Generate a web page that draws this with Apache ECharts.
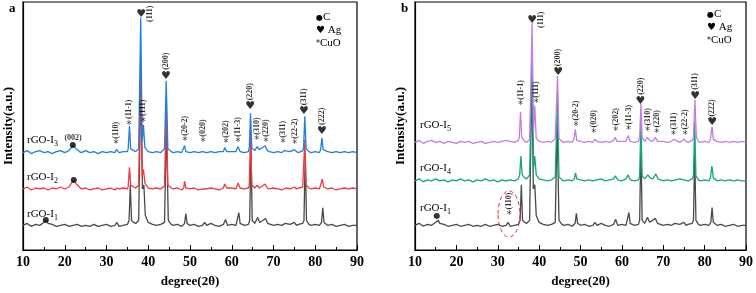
<!DOCTYPE html>
<html>
<head>
<meta charset="utf-8">
<script src="https://cdn.jsdelivr.net/npm/echarts@6/dist/echarts.min.js"></script>
<style>
	html, body { margin: 0; padding: 0; background: #fff; }
	#chart { width: 756px; height: 293px; }
</style>
</head>
<body>
<div id="chart"></div>
<script>
// rGO-I1 (same sample in both panels), [2theta, intensity]
var grayI1 = [[10,25],[11,27],[12,24],[13,26],[14,25],[15,28],[15.6,30],[16,27],[17,26],[18,24],[19,25],[20,26],[21,24],[22,25],[23,26],[24,24],[25,25],[26,24],[27,26],[28,24],[29,25],[30,26],[31,24],[32,25],[32.5,28],[33,24],[34,25],[35,26],[35.4,30],[35.7,66],[36.0,30],[36.5,28],[37,27],[37.7,30],[38.25,178],[38.6,62],[38.95,66],[39.3,35],[40,28],[41,26],[42,25],[43,26],[43.9,28],[44.35,128],[44.8,30],[45.5,26],[46,25],[47,26],[48,24],[48.7,27],[49.0,37],[49.3,27],[50,25],[51,26],[52,24],[53,25],[53.5,28],[54,25],[55,27],[56,25],[57,24],[58,26],[58.5,31],[59,25],[60,26],[61,25],[61.4,27],[61.7,38],[62,27],[63,25],[64,26],[64.3,30],[64.6,108],[64.9,30],[65.5,27],[66.2,33],[66.7,28],[67,27],[68.1,32],[68.6,27],[69,26],[70,25],[71,26],[72,25],[72.8,27],[73,25],[74,26],[75,28],[75.5,25],[76,26],[77,27],[77.3,30],[77.6,98],[77.9,30],[78.5,26],[79,25],[80,26],[81,25],[81.5,28],[81.8,43],[82.1,28],[83,25],[84,26],[85,24],[86,25],[87,26],[88,24],[89,25],[90,25]];

// panel a
var redI2 = [[10,62],[11,64],[12,61],[13,63],[14,62],[15,63],[16,61],[17,63],[18,62],[19,64],[20,62],[21,64],[21.6,68],[22.2,70],[22.8,67],[23.5,64],[24,62],[25,63],[26,61],[27,62],[28,63],[29,61],[30,62],[31,63],[32,61],[32.5,63],[33,62],[34,63],[35,62],[35.2,65],[35.5,84],[35.8,66],[36.5,64],[37,63],[37.7,66],[38.2,195],[38.55,75],[38.85,82],[39.2,68],[40,63],[41,62],[42,63],[43,62],[43.9,65],[44.3,152],[44.7,66],[45.5,63],[46,62],[47,63],[48,61],[48.5,63],[48.7,70],[49,63],[50,62],[51,63],[52,61],[53,62],[53.4,64],[54,62],[55,63],[56,62],[57,61],[58,63],[58.3,67],[58.8,63],[59,62],[60,63],[61,62],[61.5,68],[62,63],[63,62],[64,63],[64.2,66],[64.5,122],[64.8,66],[65.5,63],[66.1,66],[66.6,63],[67,62],[68,67],[68.5,63],[69,62],[70,63],[71,62],[72,61],[73,63],[74,62],[75,64],[75.5,62],[76,63],[77,64],[77.2,66],[77.5,112],[77.8,66],[78.5,63],[79,62],[80,63],[81,62],[81.4,64],[81.7,72],[82,64],[83,62],[84,63],[85,61],[86,62],[87,63],[88,62],[89,63],[90,62]];
var blueI3 = [[10,99],[11,101],[12,98],[13,100],[14,101],[15,99],[16,100],[17,98],[18,100],[19,101],[20,99],[21,101],[21.6,104],[22.1,106],[22.7,103],[23.5,100],[24,99],[25,101],[26,99],[27,100],[28,98],[29,100],[30,99],[31,100],[32,99],[32.4,102],[33,99],[34,100],[35,100],[35.2,103],[35.5,126],[35.8,103],[36.5,101],[37,100],[37.7,103],[38.2,236],[38.55,110],[38.85,127],[39.2,104],[40,100],[41,99],[42,100],[43,99],[43.9,103],[44.3,172],[44.7,103],[45.5,100],[46,99],[47,100],[48,99],[48.4,101],[48.7,106],[49,100],[50,99],[51,100],[52,99],[53,100],[53.4,102],[54,99],[55,100],[56,99],[57,100],[58,100],[58.3,104],[58.8,100],[59,99],[60,100],[61,100],[61.5,105],[62,100],[63,99],[64,100],[64.2,104],[64.5,139],[64.8,104],[65.5,101],[66.1,105],[66.6,102],[67,101],[68,106],[68.5,101],[69,100],[70,99],[71,100],[72,99],[72.6,101],[73,99],[74,100],[75,102],[75.5,100],[76,99],[77,101],[77.2,104],[77.5,136],[77.8,103],[78.5,100],[79,99],[80,100],[81,99],[81.3,102],[81.6,114],[81.9,102],[83,100],[84,99],[85,100],[86,99],[87,100],[88,99],[89,100],[90,99]];

// panel b
var greenI4 = [[10,70],[11,72],[12,69],[13,71],[14,70],[15,72],[16,70],[17,71],[18,69],[19,71],[20,70],[21,72],[22,70],[23,71],[24,69],[25,71],[26,70],[27,72],[28,70],[29,71],[30,69],[31,71],[32,70],[33,71],[34,70],[35,72],[35.3,76],[35.6,95],[35.9,76],[36.5,73],[37,72],[37.7,76],[38.3,200],[38.65,82],[38.95,95],[39.3,76],[40,72],[41,71],[42,70],[43,71],[43.9,74],[44.45,160],[44.8,74],[45.5,71],[46,70],[47,71],[48,70],[48.5,72],[48.8,78],[49.1,72],[50,71],[51,70],[52,71],[53,70],[54,71],[55,72],[56,70],[57,71],[58,72],[58.4,75],[59,71],[60,70],[61,72],[61.5,76],[62,71],[63,70],[64,71],[64.3,75],[64.6,130],[64.9,75],[65.5,72],[66.3,76],[66.8,73],[67.5,72],[68.2,77],[68.7,72],[69,71],[70,70],[71,71],[72,70],[73,71],[74,72],[75,71],[76,70],[77,72],[77.3,75],[77.6,130],[77.9,75],[78.5,71],[79,70],[80,71],[81,70],[81.4,73],[81.75,85],[82.1,73],[83,70],[84,71],[85,70],[86,71],[87,70],[88,71],[89,70],[90,70]];
var purpleI5 = [[10,109],[11,111],[12,108],[13,110],[14,111],[15,109],[16,110],[17,108],[18,110],[19,109],[20,108],[21,110],[22,109],[23,110],[24,108],[25,109],[26,110],[27,108],[28,109],[29,110],[30,109],[31,110],[32,111],[33,110],[34,109],[35,111],[35.2,114],[35.5,140],[35.8,114],[36.5,110],[37,109],[37.7,112],[38.3,230],[38.65,120],[38.95,146],[39.3,113],[40,110],[41,109],[42,110],[43,109],[43.9,113],[44.45,176],[44.8,113],[45.5,110],[46,109],[47,110],[48,109],[48.4,112],[48.75,122],[49.1,111],[50,110],[51,109],[52,110],[53,109],[53.4,112],[54,110],[55,109],[56,110],[57,109],[58,111],[58.4,114],[58.8,110],[59,109],[60,110],[61,110],[61.55,116],[62,110],[63,109],[64,110],[64.3,114],[64.6,148],[64.9,114],[65.5,110],[66.2,114],[66.7,111],[67.4,110],[68.1,114],[68.6,110],[69,109],[70,110],[71,109],[72,110],[72.6,112],[73,110],[74,109],[75,112],[75.5,110],[76,109],[77,111],[77.3,114],[77.65,152],[78,114],[78.5,110],[79,109],[80,110],[81,109],[81.4,112],[81.8,125],[82.1,112],[83,110],[84,109],[85,110],[86,109],[87,110],[88,109],[89,110],[90,109]];

// peak markers: [2theta, intensity, symbol, (hkl)]
var marksA = [
	[22.0, 107, '●', '(002)'], [22.2, 71, '●', ''], [15.5, 31, '●', ''],
	[32.3, 107, '*', '(110)'], [35.4, 127, '*', '(11-1)'], [38.3, 240, '♥', '(111)'],
	[38.8, 130, '*', '(111)'], [44.25, 177, '♥', '(200)'], [48.8, 110, '*', '(20-2)'],
	[53.1, 109, '*', '(020)'], [58.6, 108, '*', '(202)'], [61.5, 109, '*', '(11-3)'],
	[64.4, 146, '♥', '(220)'], [66.0, 111, '*', '(310)'], [68.2, 109, '*', '(220)'],
	[72.3, 108, '*', '(311)'], [75.1, 107, '*', '(22-2)'], [77.3, 141, '♥', '(311)'],
	[81.6, 121, '♥', '(222)']
];
var marksB = [
	[15.3, 34, '●', ''], [32.8, 35, '*', '(110)'], [35.5, 146, '*', '(11-1)'],
	[38.3, 233, '♥', '(111)'], [39.3, 148, '*', '(111)'], [44.6, 180, '♥', '(200)'],
	[48.9, 125, '*', '(20-2)'], [53.2, 118, '*', '(020)'], [58.5, 120, '*', '(202)'],
	[61.6, 121, '*', '(11-3)'], [64.5, 151, '♥', '(220)'], [66.2, 120, '*', '(310)'],
	[68.4, 118, '*', '(220)'], [72.5, 116, '*', '(311)'], [75.3, 116, '*', '(22-2)'],
	[77.7, 156, '♥', '(311)'], [81.8, 129, '♥', '(222)']
];
var xTicks = [10, 20, 30, 40, 50, 60, 70, 80, 90];

var serif = '"Liberation Serif", "DejaVu Serif", serif';

function glyphData(rows) {
	return rows.map(function (r) {
		var size = r[2] == '♥' ? 11 : (r[2] == '●' ? 8 : 10);
		return { name: r[2], value: [r[0], r[1]], label: { fontSize: size } };
	});
}

function hklData(rows) {
	return rows.filter(function (r) { return r[3]; }).map(function (r) {
		var item = { name: r[3], value: [r[0], r[1]] };
		if (r[3] == '(002)') {
			item.label = { rotate: 0, position: 'top', distance: 3, align: 'center', verticalAlign: 'bottom' };
		} else if (r[2] == '♥' && r[1] > 220) {
			// top peak: label sits beside the heart
			item.label = { position: [9, 0], align: 'center', verticalAlign: 'middle' };
		}
		return item;
	});
}

function lineSeries(name, data, color, idx, z) {
	return {
		name: name,
		type: 'line',
		xAxisIndex: idx,
		yAxisIndex: idx,
		data: data,
		symbol: 'none',
		z: z,
		lineStyle: { color: color, width: 1.3 },
		animation: false
	};
}

function glyphSeries(rows, idx) {
	return {
		type: 'scatter',
		xAxisIndex: idx,
		yAxisIndex: idx,
		symbolSize: 0,
		z: 10,
		data: glyphData(rows),
		label: { show: true, position: 'inside', formatter: '{b}', color: '#000', fontFamily: 'DejaVu Sans' },
		animation: false
	};
}

function hklSeries(rows, idx) {
	return {
		type: 'scatter',
		xAxisIndex: idx,
		yAxisIndex: idx,
		symbolSize: 0,
		z: 10,
		data: hklData(rows),
		label: {
			show: true, position: 'top', distance: 6, rotate: 90, align: 'left', verticalAlign: 'middle',
			formatter: '{b}', color: '#000', fontFamily: serif, fontWeight: 'bold', fontSize: 8
		},
		animation: false
	};
}

function xAxisOf(idx) {
	return {
		type: 'value', gridIndex: idx, min: 10, max: 90, interval: 10,
		axisLine: { lineStyle: { color: '#000', width: 1.2 } },
		axisTick: { inside: true, length: 5, lineStyle: { color: '#000' } },
		minorTick: { show: true, splitNumber: 2, length: 3, lineStyle: { color: '#000' } },
		splitLine: { show: false },
		axisLabel: {
			color: '#000', fontFamily: serif, fontWeight: 'bold', fontSize: 14, margin: 5,
			formatter: function (v) { return xTicks.indexOf(v) >= 0 ? String(v) : ''; }
		},
		name: 'degree(2θ)', nameLocation: 'middle', nameGap: 25,
		nameTextStyle: { color: '#000', fontFamily: serif, fontWeight: 'bold', fontSize: 13 }
	};
}

function yAxisOf(idx, max) {
	return {
		type: 'value', gridIndex: idx, min: 0, max: max,
		axisLine: { show: true, lineStyle: { color: '#000', width: 1.2 } },
		axisTick: { show: false },
		axisLabel: { show: false },
		splitLine: { show: false },
		name: 'Intensity(a.u.)', nameLocation: 'middle', nameGap: 8,
		nameTextStyle: { color: '#000', fontFamily: serif, fontWeight: 'bold', fontSize: 13 }
	};
}

function sampleLabel(x, y, sub) {
	return {
		type: 'text', left: x, top: y, z: 20,
		style: {
			text: '{m|rGO-I}{s|' + sub + '}',
			rich: {
				m: { fontFamily: serif, fontSize: 11, fill: '#000' },
				s: { fontFamily: serif, fontSize: 8, fill: '#000', padding: [6, 0, 0, 0] }
			}
		}
	};
}

function legendText(x, y) {
	return {
		type: 'text', left: x, top: y, z: 20,
		style: {
			text: '{g|●}{t|C}\n{h|♥}{t| Ag}\n{g|*}{t|CuO}',
			rich: {
				g: { fontFamily: 'DejaVu Sans', fontSize: 8, fill: '#000', lineHeight: 13 },
				h: { fontFamily: 'DejaVu Sans', fontSize: 10, fill: '#000', lineHeight: 13 },
				t: { fontFamily: serif, fontSize: 11, fill: '#000', lineHeight: 13 }
			}
		}
	};
}

var chart = echarts.init(document.getElementById('chart'));
var option = {
	backgroundColor: '#fff',
	animation: false,
	grid: [
		{ left: 23, right: 399, top: 2, bottom: 39, show: true, borderColor: '#000', borderWidth: 1.2 },
		{ left: 415, right: 8, top: 2, bottom: 40, show: true, borderColor: '#000', borderWidth: 1.2 }
	],
	xAxis: [xAxisOf(0), xAxisOf(1)],
	yAxis: [yAxisOf(0, 252), yAxisOf(1, 251)],
	series: [
		lineSeries('rGO-I1', grayI1, '#4a4a4a', 0, 2),
		lineSeries('rGO-I2', redI2, '#ef3a3f', 0, 3),
		lineSeries('rGO-I3', blueI3, '#1d80dd', 0, 4),
		glyphSeries(marksA, 0),
		hklSeries(marksA, 0),
		lineSeries('rGO-I1', grayI1, '#4a4a4a', 1, 2),
		lineSeries('rGO-I4', greenI4, '#14a77a', 1, 3),
		lineSeries('rGO-I5', purpleI5, '#c47ee3', 1, 4),
		glyphSeries(marksB, 1),
		hklSeries(marksB, 1)
	],
	graphic: [
		{ type: 'text', left: 9, top: 2, style: { text: 'a', font: 'bold 13px ' + serif, fill: '#000' } },
		{ type: 'text', left: 401, top: 2, style: { text: 'b', font: 'bold 13px ' + serif, fill: '#000' } },
		sampleLabel(27, 135, '3'),
		sampleLabel(27, 172, '2'),
		sampleLabel(27, 209, '1'),
		sampleLabel(420, 120, '5'),
		sampleLabel(420, 163, '4'),
		sampleLabel(420, 203, '1'),
		legendText(316, 12),
		legendText(707, 9),
		{
			type: 'ellipse', z: 20,
			shape: { cx: 509, cy: 214, rx: 11, ry: 23 },
			style: { fill: 'none', stroke: '#e0303a', lineWidth: 1, lineDash: [4, 3] }
		}
	]
};
chart.setOption(option);
</script>
</body>
</html>
